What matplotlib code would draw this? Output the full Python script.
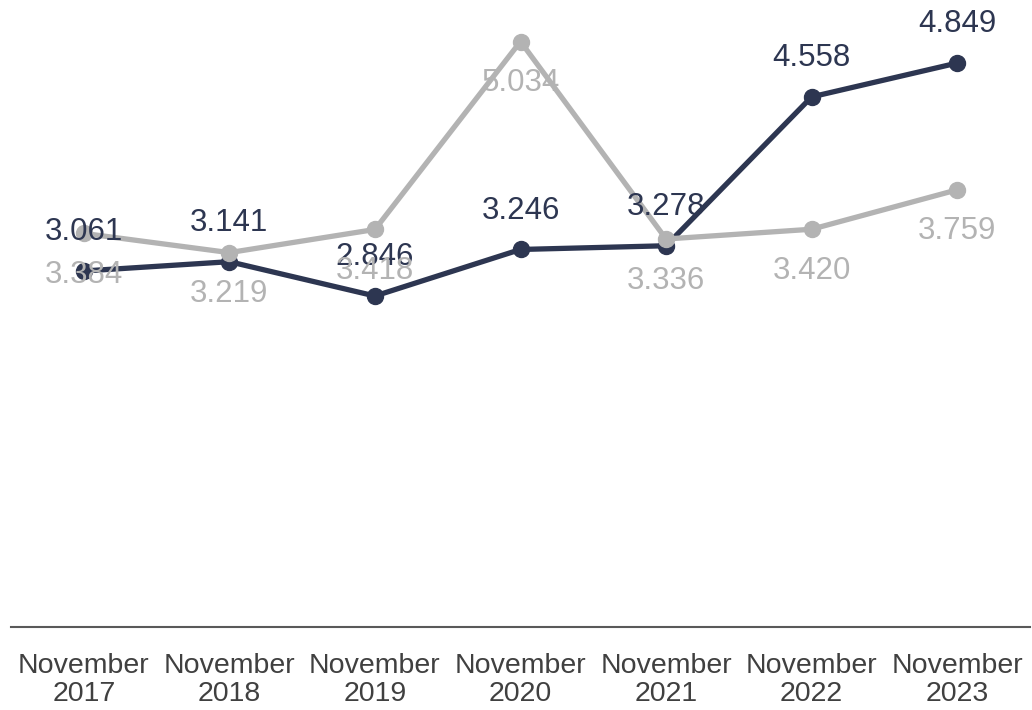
import matplotlib.pyplot as plt

plt.rcParams['font.family'] = ['Liberation Sans', 'DejaVu Sans']

categories = ["November\n2017", "November\n2018", "November\n2019", "November\n2020",
              "November\n2021", "November\n2022", "November\n2023"]
dark_values = [3.061, 3.141, 2.846, 3.246, 3.278, 4.558, 4.849]
gray_values = [3.384, 3.219, 3.418, 5.034, 3.336, 3.420, 3.759]

dark_color = '#2d3651'
gray_color = '#b3b3b3'

fig = plt.figure(figsize=(10.32, 7.1), dpi=100)
ax = fig.add_axes([11 / 1032, 83 / 710, 1019 / 1032, 627 / 710])

x = list(range(len(categories)))

ax.plot(x, dark_values, color=dark_color, linewidth=3.8, marker='o',
        markersize=11.5, zorder=2)
ax.plot(x, gray_values, color=gray_color, linewidth=3.8, marker='o',
        markersize=11.5, zorder=3)

# value labels: dark above, gray below
for xi, v in zip(x, dark_values):
    ax.annotate(f"{v:.3f}", (xi, v), xytext=(0, 28), textcoords='offset points',
                ha='center', va='center', fontsize=22.5, color=dark_color, zorder=5)
for xi, v in zip(x, gray_values):
    ax.annotate(f"{v:.3f}", (xi, v), xytext=(0, -30), textcoords='offset points',
                ha='center', va='center', fontsize=22.5, color=gray_color, zorder=5)

ax.set_xlim(-0.5, 6.5)
ax.set_ylim(0, 5.391)
ax.set_xticks(x)
ax.set_xticklabels(categories, fontsize=20.5, color='#404040', linespacing=1.1)
ax.tick_params(axis='x', length=0, pad=19)
ax.set_yticks([])

for side in ['top', 'right', 'left']:
    ax.spines[side].set_visible(False)
ax.spines['bottom'].set_color('#595959')
ax.spines['bottom'].set_linewidth(1.5)

fig.savefig("out.png", dpi=100)
